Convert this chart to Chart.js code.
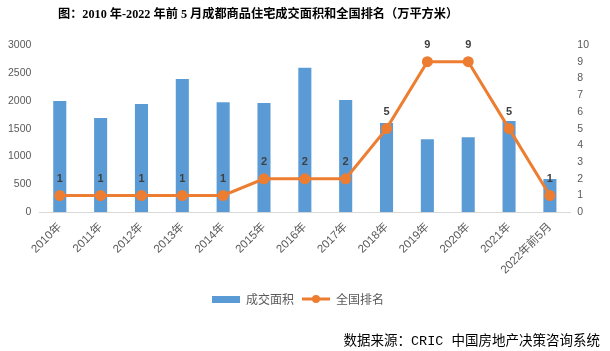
<!DOCTYPE html>
<html>
<head>
<meta charset="utf-8">
<script src="https://cdn.jsdelivr.net/npm/chart.js@4.4.1/dist/chart.umd.min.js"></script>
<style>
  body { margin: 0; background: #fff; }
  #wrap { position: relative; width: 610px; height: 351px; }
  #title {
    position: absolute; left: 58px; top: 4px;
    font: bold 12.2px "Liberation Serif", "Noto Sans CJK SC", serif;
    color: #000; white-space: nowrap;
  }
  #source {
    position: absolute; right: 10px; top: 329px;
    font: 13.5px "Liberation Mono", "Noto Sans CJK SC", monospace;
    color: #000; white-space: nowrap;
  }
</style>
</head>
<body>
<div id="wrap">
  <canvas id="chart" width="610" height="351"></canvas>
  <div id="title">图：2010 年-2022 年前 5 月成都商品住宅成交面积和全国排名（万平方米）</div>
  <div id="source">数据来源：CRIC 中国房地产决策咨询系统</div>
</div>
<script>
const years = ["2010年", "2011年", "2012年", "2013年", "2014年", "2015年", "2016年",
  "2017年", "2018年", "2019年", "2020年", "2021年", "2022年前5月"];
const area = [1995, 1690, 1940, 2390, 1975, 1960, 2590, 2015, 1600, 1310, 1345, 1635, 595];
const rank = [1, 1, 1, 1, 1, 2, 2, 2, 5, 9, 9, 5, 1];

const blue = "#5B9BD5";
const orange = "#ED7D31";

// legend icons
const barIcon = document.createElement("canvas");
barIcon.width = 28; barIcon.height = 7;
let g = barIcon.getContext("2d");
g.fillStyle = blue;
g.fillRect(0, 0, 28, 7);

const lineIcon = document.createElement("canvas");
lineIcon.width = 28; lineIcon.height = 10;
g = lineIcon.getContext("2d");
g.strokeStyle = orange; g.lineWidth = 3;
g.beginPath(); g.moveTo(0, 5); g.lineTo(28, 5); g.stroke();
g.fillStyle = orange;
g.beginPath(); g.arc(14, 5, 4, 0, Math.PI * 2); g.fill();

const rankLabels = {
  id: "rankLabels",
  afterDatasetsDraw(chart) {
    const meta = chart.getDatasetMeta(1);
    const ctx = chart.ctx;
    ctx.save();
    ctx.font = "bold 11px 'Liberation Sans', sans-serif";
    ctx.fillStyle = "#404040";
    ctx.textAlign = "center";
    ctx.textBaseline = "middle";
    meta.data.forEach((pt, i) => {
      ctx.fillText(rank[i], pt.x, pt.y - 17);
    });
    ctx.restore();
  }
};

const tickFont = { family: "'Liberation Sans', 'Noto Sans CJK SC', sans-serif", size: 10.5 };
const xFont = { family: "'Liberation Sans', 'Noto Sans CJK SC', sans-serif", size: 11.5 };

new Chart(document.getElementById("chart"), {
  type: "bar",
  data: {
    labels: years,
    datasets: [
      {
        label: "成交面积",
        data: area,
        backgroundColor: blue,
        barPercentage: 0.64,
        categoryPercentage: 0.5,
        yAxisID: "y",
        order: 2
      },
      {
        type: "line",
        label: "全国排名",
        data: rank,
        borderColor: orange,
        backgroundColor: orange,
        borderWidth: 3,
        pointRadius: 4,
        pointHoverRadius: 4,
        tension: 0,
        yAxisID: "y1",
        order: 1
      }
    ]
  },
  options: {
    responsive: false,
    animation: false,
    layout: { padding: { top: 45, right: 14, bottom: 36, left: 0 } },
    plugins: {
      title: { display: false },
      tooltip: { enabled: false },
      legend: {
        position: "bottom",
        labels: {
          usePointStyle: true,
          pointStyleWidth: 28,
          color: "#595959",
          font: { family: "'Noto Sans CJK SC', sans-serif", size: 12 },
          padding: 8,
          sort: (a, b) => a.datasetIndex - b.datasetIndex,
          generateLabels(chart) {
            const items = Chart.defaults.plugins.legend.labels.generateLabels(chart);
            items.forEach(it => {
              it.pointStyle = it.datasetIndex === 0 ? barIcon : lineIcon;
            });
            return items;
          }
        }
      }
    },
    scales: {
      x: {
        grid: { display: false, drawTicks: false },
        border: { color: "#d9d9d9" },
        ticks: { color: "#595959", font: xFont, minRotation: 45, maxRotation: 45, padding: 8 }
      },
      y: {
        position: "left",
        min: 0, max: 3000,
        grid: { display: false, drawTicks: false },
        border: { display: false },
        ticks: { stepSize: 500, color: "#595959", font: tickFont, padding: 8, callback: v => String(v) }
      },
      y1: {
        position: "right",
        min: 0, max: 10,
        grid: { display: false, drawTicks: false },
        border: { display: false },
        ticks: { stepSize: 1, color: "#595959", font: tickFont, padding: 7, callback: v => String(v) }
      }
    }
  },
  plugins: [rankLabels]
});
</script>
</body>
</html>
